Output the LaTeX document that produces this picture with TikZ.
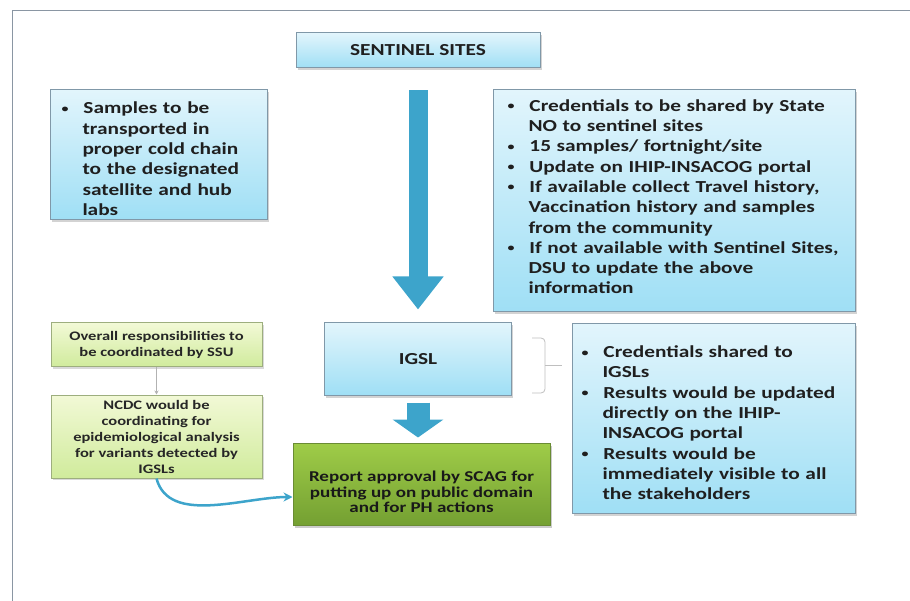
\documentclass[tikz,border=0pt]{standalone}
\usepackage{fontspec}
\setmainfont{Carlito}[FakeStretch=1.27]
\usepackage{xcolor}
\usepackage{tikz}
\usetikzlibrary{arrows.meta, positioning, shadows}

\definecolor{skylight}{HTML}{E2F5FC}
\definecolor{skydeep}{HTML}{9FDFF5}
\definecolor{skyline}{HTML}{8098A8}
\definecolor{limelight}{HTML}{F2F9D6}
\definecolor{limedeep}{HTML}{D0EB9C}
\definecolor{limeline}{HTML}{9DAE7E}
\definecolor{grasstop}{HTML}{9FCC48}
\definecolor{grassbot}{HTML}{74A032}
\definecolor{grassline}{HTML}{6A8C34}
\definecolor{arrowblue}{HTML}{3DA4CB}
\definecolor{framegray}{HTML}{8A96A3}

\newcommand{\smalldot}{\raisebox{1.5pt}{\fontsize{11}{11}\selectfont\textbullet}}
\newenvironment{dotlist}{\begin{list}{\smalldot}{%
  \setlength{\leftmargin}{20pt}\setlength{\labelwidth}{6pt}%
  \setlength{\labelsep}{15pt}\setlength{\rightmargin}{-12pt}%
  \setlength{\itemsep}{0pt}\setlength{\itemindent}{0pt}%
  \setlength{\parsep}{0pt}\setlength{\topsep}{0pt}\setlength{\partopsep}{0pt}}}%
  {\end{list}}

\begin{document}
\begin{tikzpicture}[
  x=1pt, y=-1pt,
  node distance=27pt,
  bluebox/.style={rectangle, draw=skyline, line width=1pt, top color=skylight, bottom color=skydeep,
    drop shadow={shadow xshift=1.5pt, shadow yshift=-2.5pt, opacity=0.35},
    font=\bfseries\fontsize{16.8}{20.3}\selectfont, text=black!88, align=center},
  listbox/.style={align=left, anchor=north west, inner ysep=0pt},
  limebox/.style={rectangle, draw=limeline, line width=1pt, top color=limelight, bottom color=limedeep,
    drop shadow={shadow xshift=1.5pt, shadow yshift=-2pt, opacity=0.3},
    font=\bfseries\fontsize{13}{16}\selectfont, text=black!85, align=center, minimum width=211pt},
  grassbox/.style={rectangle, draw=grassline, line width=1pt, top color=grasstop, bottom color=grassbot,
    drop shadow={shadow xshift=1.5pt, shadow yshift=-2.5pt, opacity=0.4},
    font=\bfseries\fontsize{15}{15.5}\selectfont, text=black!90, align=center},
  fatarrow/.style={draw=arrowblue, line width=19pt, -{Triangle[width=49pt, length=33pt]}},
  thinlink/.style={draw=black!30, line width=0.8pt, -{Stealth[length=4pt, width=4pt]}},
  curvelink/.style={draw=arrowblue, line width=2.5pt, -{Stealth[length=9pt, width=9pt]}},
  bracket/.style={draw=black!25, line width=0.8pt, rounded corners=4pt}
]
\useasboundingbox (0,0) rectangle (910,601);
\draw[framegray, line width=1pt] (12,601) -- (12,11) -- (910,11);

\node[bluebox, minimum width=244pt, minimum height=35pt] (sentinel) at (418,50.5) {SENTINEL SITES};
\node[bluebox, listbox, text width=193pt, inner xsep=12pt, minimum height=130pt] (samples) at (50,89)
  {\begin{dotlist}\item Samples to be\\ transported in\\ proper cold chain\\ to the designated\\ satellite and hub\\ labs\end{dotlist}};
\node[bluebox, listbox, text width=332pt, inner xsep=15pt, minimum height=222pt] (credentials) at (493,89)
  {\begin{dotlist}
   \item Credentials to be shared by State\\ NO to sentinel sites
   \item 15 samples/ fortnight/site
   \item Update on IHIP-INSACOG portal
   \item If available collect Travel history,\\ Vaccination history and samples\\ from the community
   \item If not available with Sentinel Sites,\\ DSU to update the above\\ information
   \end{dotlist}\par\vspace{16pt}};
\node[bluebox, minimum width=187pt, minimum height=72pt] (igsl) at (418,359) {IGSL};
\node[bluebox, listbox, text width=263pt, inner xsep=10pt, minimum height=190pt] (results) at (572,323)
  {\begin{dotlist}
   \item Credentials shared to\\ IGSLs
   \item Results would be updated\\ directly on the IHIP-\\ INSACOG portal
   \item Results would be\\ immediately visible to all\\ the stakeholders
   \end{dotlist}};
\node[limebox, minimum height=44pt] (overall) at (156.5,345) {Overall responsibilities to\\ be coordinated by SSU};
\node[limebox, minimum height=83pt, below=of overall] (ncdc) {NCDC would be\\ coordinating for\\ epidemiological analysis\\ for variants detected by\\ IGSLs};
\node[grassbox, minimum width=257pt, minimum height=82pt] (report) at (421.5,484) {\rule{0pt}{27pt}Report approval by SCAG for\\ putting up on public domain\\ and for PH actions};

% flow
\draw[fatarrow] ([yshift=-22pt]sentinel.south) -- ([yshift=13pt]igsl.north);
\draw[fatarrow, line width=23pt, -{Triangle[width=50pt, length=18pt]}] ([yshift=-7pt]igsl.south) -- ([yshift=5pt]igsl.south |- report.north);
\draw[thinlink] (overall) -- (ncdc);
\draw[curvelink] (ncdc.south) to[out=-75, in=180, looseness=0.9] ([yshift=-13pt]report.west);

% brace between IGSL and its notes
\draw[bracket] (532,338) -- (545,338) -- (545,393) -- (532,393);
\draw[bracket] (545,365) -- (562,365);
\end{tikzpicture}
\end{document}
